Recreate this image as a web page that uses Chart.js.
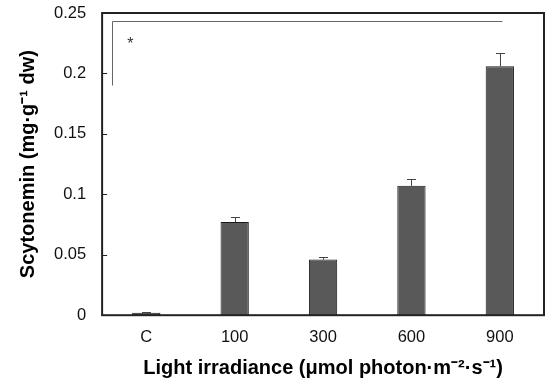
<!DOCTYPE html>
<html>
<head>
<meta charset="utf-8">
<script src="https://cdn.jsdelivr.net/npm/chart.js@4"></script>
<style>
  html, body { margin: 0; padding: 0; background: #fff; }
  #wrap { width: 550px; height: 387px; }
</style>
</head>
<body>
<div id="wrap"><canvas id="chart"></canvas></div>
<script>
const categories = ['C', '100', '300', '600', '900'];
const scytonemin = [0.002, 0.077, 0.046, 0.107, 0.206];
const errors = [0.0005, 0.004, 0.002, 0.006, 0.011];
const yTicks = [0, 0.05, 0.1, 0.15, 0.2, 0.25];

// significance bracket (category index / value units)
const bracket = { x0: -0.39, x1: 4.03, yTop: 0.2435, yLeft: 0.19 };
const star = { x: -0.18, y: 0.224, text: '*' };

const FONT = '"Liberation Sans", Arial, sans-serif';
const ctx = document.getElementById('chart').getContext('2d');

const extras = {
  id: 'extras',
  afterDatasetsDraw(chart) {
    const { ctx, chartArea, scales } = chart;
    const x = scales.x, y = scales.y;
    ctx.save();
    // error bars
    ctx.strokeStyle = '#444';
    ctx.lineWidth = 1;
    scytonemin.forEach((v, i) => {
      const px = Math.round(x.getPixelForValue(i)) + 0.5;
      const top = Math.round(y.getPixelForValue(v + errors[i])) + 0.5;
      const base = y.getPixelForValue(v);
      ctx.beginPath();
      ctx.moveTo(px, base);
      ctx.lineTo(px, top);
      ctx.moveTo(px - 4.5, top);
      ctx.lineTo(px + 4.5, top);
      ctx.stroke();
    });
    // frame
    ctx.strokeStyle = '#222';
    ctx.lineWidth = 2;
    ctx.strokeRect(chartArea.left, chartArea.top, chartArea.right - chartArea.left, chartArea.bottom - chartArea.top);
    // inward y ticks
    ctx.lineWidth = 1;
    yTicks.forEach(t => {
      const py = Math.round(y.getPixelForValue(t)) + 0.5;
      ctx.beginPath();
      ctx.moveTo(chartArea.left, py);
      ctx.lineTo(chartArea.left + 5, py);
      ctx.stroke();
    });
    // bracket
    ctx.strokeStyle = '#666';
    ctx.lineWidth = 1;
    const bx0 = Math.round(x.getPixelForValue(bracket.x0)) + 0.5;
    const bx1 = x.getPixelForValue(bracket.x1);
    const by = Math.round(y.getPixelForValue(bracket.yTop)) + 0.5;
    ctx.beginPath();
    ctx.moveTo(bx0, y.getPixelForValue(bracket.yLeft));
    ctx.lineTo(bx0, by);
    ctx.lineTo(bx1, by);
    ctx.stroke();
    ctx.fillStyle = '#333';
    ctx.font = '16px ' + FONT;
    ctx.textAlign = 'center';
    ctx.textBaseline = 'middle';
    ctx.fillText(star.text, x.getPixelForValue(star.x), y.getPixelForValue(star.y));
    ctx.restore();
  }
};

new Chart(ctx, {
  type: 'bar',
  data: {
    labels: categories,
    datasets: [{
      data: scytonemin,
      backgroundColor: '#595959',
      borderColor: '#1a1a1a',
      borderWidth: 1,
      borderSkipped: false,
      barPercentage: 0.8,
      categoryPercentage: 0.4
    }]
  },
  options: {
    responsive: true,
    maintainAspectRatio: false,
    animation: false,
    layout: { padding: { left: 16, right: 6, top: 13, bottom: 7 } },
    plugins: {
      legend: { display: false },
      tooltip: { enabled: false }
    },
    scales: {
      x: {
        grid: { display: false },
        border: { display: false },
        ticks: { color: '#111', font: { family: FONT, size: 16.5 }, padding: 4 },
        title: {
          display: true,
          text: 'Light irradiance (μmol photon·m⁻²·s⁻¹)',
          color: '#000',
          font: { family: FONT, size: 20, weight: 'bold' },
          padding: { top: 5, bottom: 0 }
        }
      },
      y: {
        min: 0,
        max: 0.25,
        grid: { display: false },
        border: { display: false },
        afterBuildTicks(axis) { axis.ticks = yTicks.map(v => ({ value: v })); },
        afterFit(axis) { axis.paddingTop = 0; },
        ticks: {
          color: '#111',
          font: { family: FONT, size: 16.5 },
          padding: 8,
          callback: v => String(v)
        },
        title: {
          display: true,
          text: 'Scytonemin (mg·g⁻¹ dw)',
          color: '#000',
          font: { family: FONT, size: 20, weight: 'bold' },
          padding: { top: 0, bottom: 6 }
        }
      }
    }
  },
  plugins: [extras]
});
</script>
</body>
</html>
